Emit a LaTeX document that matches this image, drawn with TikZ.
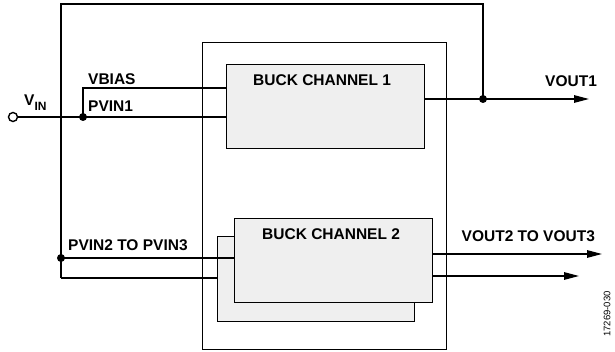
\documentclass[tikz,border=0pt]{standalone}
\usepackage{fontspec}
\setmainfont{Liberation Sans}
\usetikzlibrary{arrows.meta}
\definecolor{boxgray}{HTML}{EFEFEF}
\begin{document}
\begin{tikzpicture}[x=1pt,y=-1pt,
  wire/.style={line width=1.4pt},
  outarrow/.style={wire,-{Triangle[length=15pt,width=7.5pt]}},
  chanbox/.style={draw,line width=1.4pt,fill=boxgray,inner sep=0pt,anchor=north west},
  framebox/.style={draw,line width=1.4pt,inner sep=0pt,anchor=north west},
  lbl/.style={font=\fontsize{15.5}{17}\selectfont\bfseries,inner sep=0pt,anchor=base west},
  dot/.style={circle,fill=black,inner sep=0pt,minimum size=8pt},
  term/.style={circle,draw,line width=1.4pt,fill=white,inner sep=0pt,minimum size=9pt}]
\useasboundingbox (0,0) rectangle (615,352);
% middle frame
\node[framebox,minimum width=244pt,minimum height=307pt] (frame) at (202,42) {};
% coordinates
\coordinate (j1) at (83,117);
\coordinate (vbc) at (83,88);
\coordinate (lb) at (61,278);
\coordinate (lt) at (61,4);
\coordinate (rt) at (483,4);
\coordinate (j2) at (483,99);
\coordinate (j3) at (61,258);
\coordinate (o1) at (589,99);
\coordinate (o2) at (602,254);
\coordinate (o3) at (579,276);
% boxes
\node[chanbox,minimum width=198pt,minimum height=84pt] (b1) at (226,64) {};
\node[chanbox,minimum width=197pt,minimum height=85pt] (b2b) at (217,236) {};
\node[chanbox,minimum width=198pt,minimum height=84pt] (b2) at (234,218) {};
% input terminal
\node[term] (vin) at (13,117) {};
% wires
\draw[wire] (vin.east) -- (j1) -- (b1.west |- j1);
\draw[wire] (j1) -- (vbc) -- (b1.west |- vbc);
\draw[wire] (lb) -- (lt) -- (rt) -- (j2);
\draw[wire] (j3) -- (b2.west |- j3);
\draw[wire] (lb) -- (b2b.west |- lb);
\draw[outarrow] (b1.east |- o1) -- (o1);
\draw[outarrow] (b2.east |- o2) -- (o2);
\draw[outarrow] (b2.east |- o3) -- (o3);
% dots
\node[dot] (d1) at (j1) {};
\node[dot] (d2) at (j2) {};
\node[dot] (d3) at (j3) {};
% labels
\node[lbl] (tvin) at (24,106) {V\raisebox{-4.5pt}{\fontsize{12}{12}\selectfont IN}};
\node[lbl] (tvbias) at (88,84.5) {VBIAS};
\node[lbl] (tpvin1) at (88,112) {PVIN1};
\node[lbl] (tb1) at (253,85.5) {BUCK CHANNEL 1};
\node[lbl] (tb2) at (262,240) {BUCK CHANNEL 2};
\node[lbl] (tpvin2) at (68,251) {PVIN2 TO PVIN3};
\node[lbl] (tvout1) at (545,87) {VOUT1};
\node[lbl] (tvout2) at (461.5,241.5) {VOUT2 TO VOUT3};
\node[font=\fontsize{9.5}{10}\selectfont,rotate=90,inner sep=0pt] (code) at (607,314) {17269-030};
\end{tikzpicture}
\end{document}
